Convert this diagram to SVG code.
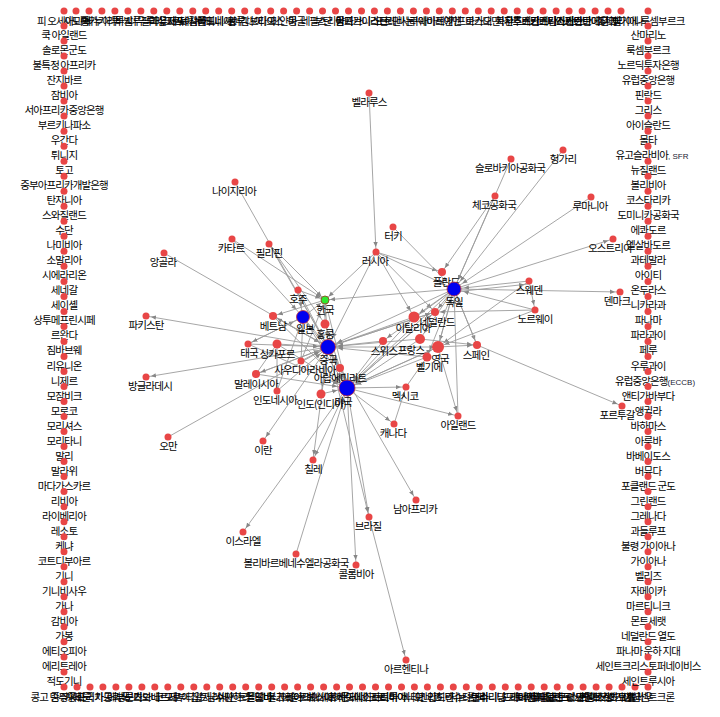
<svg xmlns="http://www.w3.org/2000/svg" width="720" height="717" viewBox="0 0 720 717">
<style>
.e line{stroke:#9c9c9c;stroke-width:0.9;fill:none}
.n{fill:#e84646}
.b{fill:#0000f0;stroke:#c83232;stroke-width:0.8}
.g{fill:#2fe82f;stroke:#8b5a2b;stroke-width:1}
text{font-family:"Noto Sans CJK KR","Noto Sans",sans-serif;font-size:10.5px;fill:#000;text-anchor:middle;letter-spacing:-0.9px}
.l{font-family:"Liberation Sans",sans-serif;font-size:8px;fill:#223;letter-spacing:0}
</style>
<defs>
<marker id="as" markerUnits="userSpaceOnUse" markerWidth="14" markerHeight="6" refX="10" refY="3" orient="auto"><path d="M0,0.8 L5,3 L0,5.2 Z" fill="#878787"/></marker>
<marker id="am" markerUnits="userSpaceOnUse" markerWidth="16" markerHeight="6" refX="12" refY="3" orient="auto"><path d="M0,0.8 L5,3 L0,5.2 Z" fill="#878787"/></marker>
<marker id="ab" markerUnits="userSpaceOnUse" markerWidth="18" markerHeight="6" refX="15" refY="3" orient="auto"><path d="M0,0.8 L5,3 L0,5.2 Z" fill="#878787"/></marker>
</defs>
<rect width="720" height="717" fill="#fff"/>
<g id="edges" class="e">
<line x1="369" y1="93" x2="376" y2="252" marker-end="url(#as)"/>
<line x1="235" y1="182" x2="328" y2="347" marker-end="url(#ab)"/>
<line x1="269" y1="244" x2="325" y2="300" marker-end="url(#as)"/>
<line x1="269" y1="244" x2="328" y2="347" marker-end="url(#ab)"/>
<line x1="269" y1="244" x2="325" y2="324" marker-end="url(#am)"/>
<line x1="232" y1="239" x2="325" y2="300" marker-end="url(#as)"/>
<line x1="232" y1="239" x2="303" y2="317" marker-end="url(#ab)"/>
<line x1="164" y1="253" x2="328" y2="347" marker-end="url(#ab)"/>
<line x1="328" y1="347" x2="146" y2="316" marker-end="url(#as)"/>
<line x1="328" y1="347" x2="146" y2="377" marker-end="url(#as)"/>
<line x1="168" y1="437" x2="328" y2="347" marker-end="url(#ab)"/>
<line x1="328" y1="347" x2="263" y2="441" marker-end="url(#as)"/>
<line x1="347" y1="388" x2="313" y2="460" marker-end="url(#as)"/>
<line x1="328" y1="347" x2="313" y2="460" marker-end="url(#as)"/>
<line x1="347" y1="388" x2="243" y2="532" marker-end="url(#as)"/>
<line x1="296" y1="554" x2="347" y2="388" marker-end="url(#ab)"/>
<line x1="347" y1="388" x2="356" y2="565" marker-end="url(#as)"/>
<line x1="347" y1="388" x2="369" y2="517" marker-end="url(#as)"/>
<line x1="328" y1="347" x2="369" y2="517" marker-end="url(#as)"/>
<line x1="369" y1="517" x2="406" y2="660" marker-end="url(#as)"/>
<line x1="328" y1="347" x2="416" y2="500" marker-end="url(#as)"/>
<line x1="347" y1="388" x2="394" y2="424" marker-end="url(#as)"/>
<line x1="394" y1="424" x2="406" y2="387" marker-end="url(#as)"/>
<line x1="347" y1="388" x2="406" y2="387" marker-end="url(#as)"/>
<line x1="347" y1="388" x2="458" y2="416" marker-end="url(#as)"/>
<line x1="438" y1="347" x2="458" y2="416" marker-end="url(#as)"/>
<line x1="458" y1="416" x2="454" y2="289" marker-end="url(#ab)"/>
<line x1="376" y1="252" x2="325" y2="300" marker-end="url(#as)"/>
<line x1="376" y1="252" x2="328" y2="347" marker-end="url(#ab)"/>
<line x1="376" y1="252" x2="454" y2="289" marker-end="url(#ab)"/>
<line x1="376" y1="252" x2="435" y2="312" marker-end="url(#as)"/>
<line x1="376" y1="252" x2="414" y2="317" marker-end="url(#am)"/>
<line x1="376" y1="252" x2="442" y2="272" marker-end="url(#as)"/>
<line x1="393" y1="227" x2="454" y2="289" marker-end="url(#ab)"/>
<line x1="563" y1="150" x2="454" y2="289" marker-end="url(#ab)"/>
<line x1="511" y1="159" x2="454" y2="289" marker-end="url(#ab)"/>
<line x1="495" y1="196" x2="454" y2="289" marker-end="url(#ab)"/>
<line x1="495" y1="196" x2="442" y2="272" marker-end="url(#as)"/>
<line x1="591" y1="197" x2="454" y2="289" marker-end="url(#ab)"/>
<line x1="454" y1="289" x2="613" y2="239" marker-end="url(#as)"/>
<line x1="454" y1="289" x2="620" y2="292" marker-end="url(#as)"/>
<line x1="529" y1="281" x2="454" y2="289" marker-end="url(#ab)"/>
<line x1="454" y1="292" x2="529" y2="284" marker-end="url(#as)"/>
<line x1="529" y1="281" x2="535" y2="310" marker-end="url(#as)"/>
<line x1="535" y1="310" x2="438" y2="347" marker-end="url(#am)"/>
<line x1="535" y1="310" x2="454" y2="289" marker-end="url(#ab)"/>
<line x1="535" y1="310" x2="435" y2="312" marker-end="url(#as)"/>
<line x1="529" y1="281" x2="438" y2="347" marker-end="url(#am)"/>
<line x1="477" y1="345" x2="622" y2="406" marker-end="url(#as)"/>
<line x1="454" y1="289" x2="477" y2="345" marker-end="url(#as)"/>
<line x1="420" y1="339" x2="477" y2="345" marker-end="url(#as)"/>
<line x1="438" y1="347" x2="477" y2="345" marker-end="url(#as)"/>
<line x1="477" y1="345" x2="454" y2="289" marker-end="url(#ab)"/>
<line x1="454" y1="289" x2="328" y2="347" marker-end="url(#ab)"/>
<line x1="454" y1="289" x2="347" y2="388" marker-end="url(#ab)"/>
<line x1="454" y1="289" x2="325" y2="300" marker-end="url(#as)"/>
<line x1="438" y1="347" x2="347" y2="388" marker-end="url(#ab)"/>
<line x1="420" y1="339" x2="347" y2="388" marker-end="url(#ab)"/>
<line x1="414" y1="317" x2="347" y2="388" marker-end="url(#ab)"/>
<line x1="435" y1="312" x2="328" y2="347" marker-end="url(#ab)"/>
<line x1="420" y1="339" x2="328" y2="347" marker-end="url(#ab)"/>
<line x1="414" y1="317" x2="328" y2="347" marker-end="url(#ab)"/>
<line x1="438" y1="347" x2="328" y2="347" marker-end="url(#ab)"/>
<line x1="383" y1="341" x2="328" y2="347" marker-end="url(#ab)"/>
<line x1="383" y1="341" x2="347" y2="388" marker-end="url(#ab)"/>
<line x1="427" y1="357" x2="328" y2="347" marker-end="url(#ab)"/>
<line x1="454" y1="289" x2="420" y2="339" marker-end="url(#am)"/>
<line x1="454" y1="289" x2="435" y2="312" marker-end="url(#as)"/>
<line x1="454" y1="289" x2="414" y2="317" marker-end="url(#am)"/>
<line x1="454" y1="289" x2="438" y2="347" marker-end="url(#am)"/>
<line x1="454" y1="289" x2="427" y2="357" marker-end="url(#am)"/>
<line x1="454" y1="289" x2="383" y2="341" marker-end="url(#as)"/>
<line x1="438" y1="347" x2="454" y2="289" marker-end="url(#ab)"/>
<line x1="435" y1="312" x2="347" y2="388" marker-end="url(#ab)"/>
<line x1="427" y1="357" x2="347" y2="388" marker-end="url(#ab)"/>
<line x1="347" y1="388" x2="438" y2="347" marker-end="url(#am)"/>
<line x1="347" y1="388" x2="435" y2="312" marker-end="url(#as)"/>
<line x1="328" y1="347" x2="435" y2="312" marker-end="url(#as)"/>
<line x1="406" y1="387" x2="427" y2="357" marker-end="url(#am)"/>
<line x1="303" y1="317" x2="328" y2="347" marker-end="url(#ab)"/>
<line x1="325" y1="300" x2="328" y2="347" marker-end="url(#ab)"/>
<line x1="347" y1="388" x2="328" y2="347" marker-end="url(#ab)"/>
<line x1="303" y1="317" x2="347" y2="388" marker-end="url(#ab)"/>
<line x1="325" y1="300" x2="347" y2="388" marker-end="url(#ab)"/>
<line x1="325" y1="324" x2="347" y2="388" marker-end="url(#ab)"/>
<line x1="325" y1="300" x2="325" y2="324" marker-end="url(#am)"/>
<line x1="273" y1="316" x2="328" y2="347" marker-end="url(#ab)"/>
<line x1="273" y1="316" x2="347" y2="388" marker-end="url(#ab)"/>
<line x1="248" y1="344" x2="328" y2="347" marker-end="url(#ab)"/>
<line x1="277" y1="344" x2="328" y2="347" marker-end="url(#ab)"/>
<line x1="256" y1="374" x2="277" y2="344" marker-end="url(#am)"/>
<line x1="256" y1="374" x2="328" y2="347" marker-end="url(#ab)"/>
<line x1="277" y1="391" x2="328" y2="347" marker-end="url(#ab)"/>
<line x1="277" y1="391" x2="303" y2="317" marker-end="url(#ab)"/>
<line x1="277" y1="391" x2="277" y2="344" marker-end="url(#am)"/>
<line x1="301" y1="361" x2="328" y2="347" marker-end="url(#ab)"/>
<line x1="301" y1="361" x2="303" y2="317" marker-end="url(#ab)"/>
<line x1="301" y1="361" x2="325" y2="300" marker-end="url(#as)"/>
<line x1="340" y1="368" x2="303" y2="317" marker-end="url(#ab)"/>
<line x1="328" y1="347" x2="340" y2="368" marker-end="url(#as)"/>
<line x1="321" y1="394" x2="347" y2="388" marker-end="url(#ab)"/>
<line x1="328" y1="347" x2="321" y2="394" marker-end="url(#am)"/>
<line x1="298" y1="290" x2="328" y2="347" marker-end="url(#ab)"/>
<line x1="298" y1="290" x2="303" y2="317" marker-end="url(#ab)"/>
<line x1="298" y1="290" x2="325" y2="300" marker-end="url(#as)"/>
<line x1="303" y1="317" x2="325" y2="300" marker-end="url(#as)"/>
<line x1="248" y1="344" x2="303" y2="317" marker-end="url(#ab)"/>
<line x1="256" y1="374" x2="347" y2="388" marker-end="url(#ab)"/>
<line x1="277" y1="344" x2="347" y2="388" marker-end="url(#ab)"/>
<line x1="248" y1="344" x2="347" y2="388" marker-end="url(#ab)"/>
<line x1="328" y1="347" x2="273" y2="316" marker-end="url(#as)"/>
<line x1="325" y1="300" x2="273" y2="316" marker-end="url(#as)"/>
<line x1="328" y1="347" x2="256" y2="374" marker-end="url(#as)"/>
<line x1="303" y1="317" x2="248" y2="344" marker-end="url(#as)"/>
</g>
<g id="n-belarus"><circle class="n" cx="369" cy="93" r="3.5"/><text x="369" y="106">벨라루스</text></g>
<g id="n-hungary"><circle class="n" cx="563" cy="150" r="3.5"/><text x="563" y="163">헝가리</text></g>
<g id="n-slovakia"><circle class="n" cx="511" cy="159" r="3.5"/><text x="510" y="172">슬로바키아공화국</text></g>
<g id="n-czech"><circle class="n" cx="495" cy="196" r="3.5"/><text x="494" y="209">체코공화국</text></g>
<g id="n-romania"><circle class="n" cx="591" cy="197" r="3.5"/><text x="590" y="210">루마니아</text></g>
<g id="n-turkey"><circle class="n" cx="393" cy="227" r="3.5"/><text x="393" y="240">터키</text></g>
<g id="n-russia"><circle class="n" cx="376" cy="252" r="3.5"/><text x="375" y="265">러시아</text></g>
<g id="n-nigeria"><circle class="n" cx="235" cy="182" r="3.5"/><text x="234" y="195">나이지리아</text></g>
<g id="n-qatar"><circle class="n" cx="232" cy="239" r="3.5"/><text x="231" y="252">카타르</text></g>
<g id="n-philippines"><circle class="n" cx="269" cy="244" r="3.5"/><text x="269" y="257">필리핀</text></g>
<g id="n-angola"><circle class="n" cx="164" cy="253" r="3.5"/><text x="163" y="266">앙골라</text></g>
<g id="n-pakistan"><circle class="n" cx="146" cy="316" r="3.5"/><text x="146" y="329">파키스탄</text></g>
<g id="n-bangladesh"><circle class="n" cx="146" cy="377" r="3.5"/><text x="150" y="390">방글라데시</text></g>
<g id="n-oman"><circle class="n" cx="168" cy="437" r="3.5"/><text x="168" y="450">오만</text></g>
<g id="n-iran"><circle class="n" cx="263" cy="441" r="3.5"/><text x="263" y="454">이란</text></g>
<g id="n-chile"><circle class="n" cx="313" cy="460" r="3.5"/><text x="313" y="473">칠레</text></g>
<g id="n-israel"><circle class="n" cx="243" cy="532" r="3.5"/><text x="243" y="545">이스라엘</text></g>
<g id="n-venezuela"><circle class="n" cx="296" cy="554" r="3.5"/><text x="296" y="567">볼리바르베네수엘라공화국</text></g>
<g id="n-colombia"><circle class="n" cx="356" cy="565" r="3.5"/><text x="356" y="578">콜롬비아</text></g>
<g id="n-brazil"><circle class="n" cx="369" cy="517" r="3.5"/><text x="368" y="530">브라질</text></g>
<g id="n-safrica"><circle class="n" cx="416" cy="500" r="3.5"/><text x="415" y="513">남아프리카</text></g>
<g id="n-argentina"><circle class="n" cx="406" cy="660" r="3.5"/><text x="406" y="673">아르헨티나</text></g>
<g id="n-canada"><circle class="n" cx="394" cy="424" r="3.5"/><text x="393" y="437">캐나다</text></g>
<g id="n-ireland"><circle class="n" cx="458" cy="416" r="3.5"/><text x="458" y="429">아일랜드</text></g>
<g id="n-mexico"><circle class="n" cx="406" cy="387" r="3.5"/><text x="405" y="400">멕시코</text></g>
<g id="n-spain"><circle class="n" cx="477" cy="345" r="4"/><text x="476" y="358.5">스페인</text></g>
<g id="n-norway"><circle class="n" cx="535" cy="310" r="3.5"/><text x="535" y="323">노르웨이</text></g>
<g id="n-sweden"><circle class="n" cx="529" cy="281" r="3.5"/><text x="529" y="294">스웨덴</text></g>
<g id="n-denmark"><circle class="n" cx="620" cy="292" r="3.5"/><text x="617" y="305">덴마크</text></g>
<g id="n-austria"><circle class="n" cx="613" cy="239" r="3.5"/><text x="610" y="252">오스트리아</text></g>
<g id="n-portugal"><circle class="n" cx="622" cy="406" r="3.5"/><text x="617" y="419">포르투갈</text></g>
<g id="n-poland"><circle class="n" cx="442" cy="272" r="4"/><text x="446" y="285.5">폴란드</text></g>
<g id="n-netherlands"><circle class="n" cx="435" cy="312" r="4"/><text x="437" y="325.5">네덜란드</text></g>
<g id="n-italy"><circle class="n" cx="414" cy="317" r="5.5"/><text x="413" y="332">이탈리아</text></g>
<g id="n-switzerland"><circle class="n" cx="383" cy="341" r="4"/><text x="384" y="354.5">스위스</text></g>
<g id="n-france"><circle class="n" cx="420" cy="339" r="5"/><text x="411" y="353.5">프랑스</text></g>
<g id="n-uk"><circle class="n" cx="438" cy="347" r="6"/><text x="440" y="362.5">영국</text></g>
<g id="n-belgium"><circle class="n" cx="427" cy="357" r="4.5"/><text x="429" y="371">벨기에</text></g>
<g id="n-germany"><circle class="b" cx="454" cy="289" r="7"/><text x="454" y="305.5">독일</text></g>
<g id="n-australia"><circle class="n" cx="298" cy="290" r="3.5"/><text x="298" y="303">호주</text></g>
<g id="n-korea"><circle class="g" cx="325" cy="300" r="4"/><text x="325" y="313.5">한국</text></g>
<g id="n-vietnam"><circle class="n" cx="273" cy="316" r="4"/><text x="273" y="329.5">베트남</text></g>
<g id="n-hongkong"><circle class="n" cx="325" cy="324" r="4.5"/><text x="325" y="338">홍콩</text></g>
<g id="n-japan"><circle class="b" cx="303" cy="317" r="6.5"/><text x="305" y="333">일본</text></g>
<g id="n-thailand"><circle class="n" cx="248" cy="344" r="3.5"/><text x="249" y="357">태국</text></g>
<g id="n-singapore"><circle class="n" cx="277" cy="344" r="4.5"/><text x="277" y="358">싱가포르</text></g>
<g id="n-saudi"><circle class="n" cx="301" cy="361" r="3.5"/><text x="305" y="374">사우디아라비아</text></g>
<g id="n-uae"><circle class="n" cx="340" cy="368" r="4"/><text x="340" y="381.5">아랍에미리트</text></g>
<g id="n-malaysia"><circle class="n" cx="256" cy="374" r="4"/><text x="256" y="387.5">말레이시아</text></g>
<g id="n-indonesia"><circle class="n" cx="277" cy="391" r="3.5"/><text x="275" y="404">인도네시아</text></g>
<g id="n-india"><circle class="n" cx="321" cy="394" r="4.5"/><text x="321" y="408">인도(인디아)</text></g>
<g id="n-china"><circle class="b" cx="328" cy="347" r="7.5"/><text x="328" y="364">중국</text></g>
<g id="n-usa"><circle class="b" cx="347" cy="388" r="8"/><text x="343" y="405.5">미국</text></g>
<g id="n-T1"><circle class="n" cx="76" cy="11" r="3.5"/><text x="76" y="24.5">사모아</text></g>
<g id="n-T2"><circle class="n" cx="89" cy="11" r="3.5"/><text x="89" y="24.5">통가</text></g>
<g id="n-T3"><circle class="n" cx="101.9" cy="11" r="3.5"/><text x="101.9" y="24.5">바누아투</text></g>
<g id="n-T4"><circle class="n" cx="114.9" cy="11" r="3.5"/><text x="114.9" y="24.5">키리바시</text></g>
<g id="n-T5"><circle class="n" cx="127.9" cy="11" r="3.5"/><text x="127.9" y="24.5">투발루</text></g>
<g id="n-T6"><circle class="n" cx="140.9" cy="11" r="3.5"/><text x="140.9" y="24.5">나우루</text></g>
<g id="n-T7"><circle class="n" cx="153.8" cy="11" r="3.5"/><text x="153.8" y="24.5">팔라우</text></g>
<g id="n-T8"><circle class="n" cx="166.8" cy="11" r="3.5"/><text x="166.8" y="24.5">마셜 제도</text></g>
<g id="n-T9"><circle class="n" cx="179.8" cy="11" r="3.5"/><text x="179.8" y="24.5">미크로네시아</text></g>
<g id="n-T10"><circle class="n" cx="192.8" cy="11" r="3.5"/><text x="192.8" y="24.5">파푸아뉴기니</text></g>
<g id="n-T11"><circle class="n" cx="205.7" cy="11" r="3.5"/><text x="205.7" y="24.5">뉴칼레도니아</text></g>
<g id="n-T12"><circle class="n" cx="218.7" cy="11" r="3.5"/><text x="218.7" y="24.5">폴리네시아</text></g>
<g id="n-T13"><circle class="n" cx="231.7" cy="11" r="3.5"/><text x="231.7" y="24.5">괌</text></g>
<g id="n-T14"><circle class="n" cx="244.7" cy="11" r="3.5"/><text x="244.7" y="24.5">브루나이</text></g>
<g id="n-T15"><circle class="n" cx="257.7" cy="11" r="3.5"/><text x="257.7" y="24.5">캄보디아</text></g>
<g id="n-T16"><circle class="n" cx="270.7" cy="11" r="3.5"/><text x="270.7" y="24.5">라오스</text></g>
<g id="n-T17"><circle class="n" cx="283.6" cy="11" r="3.5"/><text x="283.6" y="24.5">미얀마</text></g>
<g id="n-T18"><circle class="n" cx="296.6" cy="11" r="3.5"/><text x="296.6" y="24.5">몽골</text></g>
<g id="n-T19"><circle class="n" cx="309.6" cy="11" r="3.5"/><text x="309.6" y="24.5">네팔</text></g>
<g id="n-T20"><circle class="n" cx="322.5" cy="11" r="3.5"/><text x="322.5" y="24.5">부탄</text></g>
<g id="n-T21"><circle class="n" cx="335.5" cy="11" r="3.5"/><text x="335.5" y="24.5">스리랑카</text></g>
<g id="n-T22"><circle class="n" cx="348.5" cy="11" r="3.5"/><text x="348.5" y="24.5">몰디브</text></g>
<g id="n-T23"><circle class="n" cx="361.5" cy="11" r="3.5"/><text x="361.5" y="24.5">아프가니스탄</text></g>
<g id="n-T24"><circle class="n" cx="374.4" cy="11" r="3.5"/><text x="374.4" y="24.5">이라크</text></g>
<g id="n-T25"><circle class="n" cx="387.4" cy="11" r="3.5"/><text x="387.4" y="24.5">요르단</text></g>
<g id="n-T26"><circle class="n" cx="400.4" cy="11" r="3.5"/><text x="400.4" y="24.5">레바논</text></g>
<g id="n-T27"><circle class="n" cx="413.4" cy="11" r="3.5"/><text x="413.4" y="24.5">시리아</text></g>
<g id="n-T28"><circle class="n" cx="426.4" cy="11" r="3.5"/><text x="426.4" y="24.5">쿠웨이트</text></g>
<g id="n-T29"><circle class="n" cx="439.3" cy="11" r="3.5"/><text x="439.3" y="24.5">바레인</text></g>
<g id="n-T30"><circle class="n" cx="452.3" cy="11" r="3.5"/><text x="452.3" y="24.5">예멘</text></g>
<g id="n-T31"><circle class="n" cx="465.3" cy="11" r="3.5"/><text x="465.3" y="24.5">키프로스</text></g>
<g id="n-T32"><circle class="n" cx="478.3" cy="11" r="3.5"/><text x="478.3" y="24.5">마카오</text></g>
<g id="n-T33"><circle class="n" cx="491.2" cy="11" r="3.5"/><text x="491.2" y="24.5">대만</text></g>
<g id="n-T34"><circle class="n" cx="504.2" cy="11" r="3.5"/><text x="504.2" y="24.5">북한</text></g>
<g id="n-T35"><circle class="n" cx="517.2" cy="11" r="3.5"/><text x="517.2" y="24.5">카자흐스탄</text></g>
<g id="n-T36"><circle class="n" cx="530.2" cy="11" r="3.5"/><text x="530.2" y="24.5">우즈베키스탄</text></g>
<g id="n-T37"><circle class="n" cx="543.1" cy="11" r="3.5"/><text x="543.1" y="24.5">투르크메니스탄</text></g>
<g id="n-T38"><circle class="n" cx="556.1" cy="11" r="3.5"/><text x="556.1" y="24.5">키르기스스탄</text></g>
<g id="n-T39"><circle class="n" cx="569.1" cy="11" r="3.5"/><text x="569.1" y="24.5">타지키스탄</text></g>
<g id="n-T40"><circle class="n" cx="582.1" cy="11" r="3.5"/><text x="582.1" y="24.5">아제르바이잔</text></g>
<g id="n-T41"><circle class="n" cx="595.1" cy="11" r="3.5"/><text x="595.1" y="24.5">아르메니아</text></g>
<g id="n-T42"><circle class="n" cx="608" cy="11" r="3.5"/><text x="608" y="24.5">조지아</text></g>
<g id="n-T43"><circle class="n" cx="621" cy="11" r="3.5"/><text x="621" y="24.5">우크라이나</text></g>
<g id="n-B1"><circle class="n" cx="77" cy="687" r="3.5"/><text x="77" y="700.5">카메룬</text></g>
<g id="n-B2"><circle class="n" cx="90" cy="687" r="3.5"/><text x="90" y="700.5">중앙아프리카공화국</text></g>
<g id="n-B3"><circle class="n" cx="102.9" cy="687" r="3.5"/><text x="102.9" y="700.5">차드</text></g>
<g id="n-B4"><circle class="n" cx="115.9" cy="687" r="3.5"/><text x="115.9" y="700.5">베냉</text></g>
<g id="n-B5"><circle class="n" cx="128.9" cy="687" r="3.5"/><text x="128.9" y="700.5">부룬디</text></g>
<g id="n-B6"><circle class="n" cx="141.9" cy="687" r="3.5"/><text x="141.9" y="700.5">보츠와나</text></g>
<g id="n-B7"><circle class="n" cx="154.8" cy="687" r="3.5"/><text x="154.8" y="700.5">카보베르데</text></g>
<g id="n-B8"><circle class="n" cx="167.8" cy="687" r="3.5"/><text x="167.8" y="700.5">코모로</text></g>
<g id="n-B9"><circle class="n" cx="180.8" cy="687" r="3.5"/><text x="180.8" y="700.5">지부티</text></g>
<g id="n-B10"><circle class="n" cx="193.8" cy="687" r="3.5"/><text x="193.8" y="700.5">이집트</text></g>
<g id="n-B11"><circle class="n" cx="206.8" cy="687" r="3.5"/><text x="206.8" y="700.5">알제리</text></g>
<g id="n-B12"><circle class="n" cx="219.7" cy="687" r="3.5"/><text x="219.7" y="700.5">남수단</text></g>
<g id="n-B13"><circle class="n" cx="232.7" cy="687" r="3.5"/><text x="232.7" y="700.5">서사하라</text></g>
<g id="n-B14"><circle class="n" cx="245.7" cy="687" r="3.5"/><text x="245.7" y="700.5">세인트헬레나</text></g>
<g id="n-B15"><circle class="n" cx="258.7" cy="687" r="3.5"/><text x="258.7" y="700.5">몰도바</text></g>
<g id="n-B16"><circle class="n" cx="271.7" cy="687" r="3.5"/><text x="271.7" y="700.5">알바니아</text></g>
<g id="n-B17"><circle class="n" cx="284.6" cy="687" r="3.5"/><text x="284.6" y="700.5">불가리아</text></g>
<g id="n-B18"><circle class="n" cx="297.6" cy="687" r="3.5"/><text x="297.6" y="700.5">크로아티아</text></g>
<g id="n-B19"><circle class="n" cx="310.6" cy="687" r="3.5"/><text x="310.6" y="700.5">슬로베니아</text></g>
<g id="n-B20"><circle class="n" cx="323.6" cy="687" r="3.5"/><text x="323.6" y="700.5">보스니아</text></g>
<g id="n-B21"><circle class="n" cx="336.6" cy="687" r="3.5"/><text x="336.6" y="700.5">세르비아</text></g>
<g id="n-B22"><circle class="n" cx="349.5" cy="687" r="3.5"/><text x="349.5" y="700.5">마케도니아</text></g>
<g id="n-B23"><circle class="n" cx="362.5" cy="687" r="3.5"/><text x="362.5" y="700.5">몬테네그로</text></g>
<g id="n-B24"><circle class="n" cx="375.5" cy="687" r="3.5"/><text x="375.5" y="700.5">에스토니아</text></g>
<g id="n-B25"><circle class="n" cx="388.5" cy="687" r="3.5"/><text x="388.5" y="700.5">라트비아</text></g>
<g id="n-B26"><circle class="n" cx="401.5" cy="687" r="3.5"/><text x="401.5" y="700.5">리투아니아</text></g>
<g id="n-B27"><circle class="n" cx="414.4" cy="687" r="3.5"/><text x="414.4" y="700.5">바티칸</text></g>
<g id="n-B28"><circle class="n" cx="427.4" cy="687" r="3.5"/><text x="427.4" y="700.5">모나코</text></g>
<g id="n-B29"><circle class="n" cx="440.4" cy="687" r="3.5"/><text x="440.4" y="700.5">안도라</text></g>
<g id="n-B30"><circle class="n" cx="453.3" cy="687" r="3.5"/><text x="453.3" y="700.5">리히텐슈타인</text></g>
<g id="n-B31"><circle class="n" cx="466.3" cy="687" r="3.5"/><text x="466.3" y="700.5">지브롤터</text></g>
<g id="n-B32"><circle class="n" cx="479.3" cy="687" r="3.5"/><text x="479.3" y="700.5">쿠바</text></g>
<g id="n-B33"><circle class="n" cx="492.3" cy="687" r="3.5"/><text x="492.3" y="700.5">수리남</text></g>
<g id="n-B34"><circle class="n" cx="505.3" cy="687" r="3.5"/><text x="505.3" y="700.5">트리니다드토바고</text></g>
<g id="n-B35"><circle class="n" cx="518.2" cy="687" r="3.5"/><text x="518.2" y="700.5">도미니카</text></g>
<g id="n-B36"><circle class="n" cx="531.2" cy="687" r="3.5"/><text x="531.2" y="700.5">케이맨 제도</text></g>
<g id="n-B37"><circle class="n" cx="544.2" cy="687" r="3.5"/><text x="544.2" y="700.5">버진 아일랜드</text></g>
<g id="n-B38"><circle class="n" cx="557.2" cy="687" r="3.5"/><text x="557.2" y="700.5">푸에르토리코</text></g>
<g id="n-B39"><circle class="n" cx="570.2" cy="687" r="3.5"/><text x="570.2" y="700.5">네덜란드령 안틸레스</text></g>
<g id="n-B40"><circle class="n" cx="583.1" cy="687" r="3.5"/><text x="583.1" y="700.5">터크스 케이커스</text></g>
<g id="n-B41"><circle class="n" cx="596.1" cy="687" r="3.5"/><text x="596.1" y="700.5">세인트키츠</text></g>
<g id="n-B42"><circle class="n" cx="609.1" cy="687" r="3.5"/><text x="609.1" y="700.5">프랑스령 기아나</text></g>
<g id="n-B43"><circle class="n" cx="622" cy="687" r="3.5"/><text x="622" y="700.5">마요트</text></g>
<g id="n-B44"><circle class="n" cx="635" cy="687" r="3.5"/><text x="635" y="700.5">토켈라우</text></g>
<g id="n-L0"><circle class="n" cx="64" cy="11" r="3.5"/><text x="64" y="24.5">피 오세아니아</text></g>
<g id="n-L1"><circle class="n" cx="64" cy="26" r="3.5"/><text x="64" y="39">쿡 아일랜드</text></g>
<g id="n-L2"><circle class="n" cx="64" cy="41" r="3.5"/><text x="64" y="54">솔로몬군도</text></g>
<g id="n-L3"><circle class="n" cx="64" cy="56.1" r="3.5"/><text x="64" y="69.1">불특정 아프리카</text></g>
<g id="n-L4"><circle class="n" cx="64" cy="71.1" r="3.5"/><text x="64" y="84.1">잔지바르</text></g>
<g id="n-L5"><circle class="n" cx="64" cy="86.1" r="3.5"/><text x="64" y="99.1">잠비아</text></g>
<g id="n-L6"><circle class="n" cx="64" cy="101.1" r="3.5"/><text x="64" y="114.1">서아프리카중앙은행</text></g>
<g id="n-L7"><circle class="n" cx="64" cy="116.1" r="3.5"/><text x="64" y="129.1">부르키나파소</text></g>
<g id="n-L8"><circle class="n" cx="64" cy="131.2" r="3.5"/><text x="64" y="144.2">우간다</text></g>
<g id="n-L9"><circle class="n" cx="64" cy="146.2" r="3.5"/><text x="64" y="159.2">튀니지</text></g>
<g id="n-L10"><circle class="n" cx="64" cy="161.2" r="3.5"/><text x="64" y="174.2">토고</text></g>
<g id="n-L11"><circle class="n" cx="64" cy="176.2" r="3.5"/><text x="64" y="189.2">중부아프리카개발은행</text></g>
<g id="n-L12"><circle class="n" cx="64" cy="191.2" r="3.5"/><text x="64" y="204.2">탄자니아</text></g>
<g id="n-L13"><circle class="n" cx="64" cy="206.3" r="3.5"/><text x="64" y="219.3">스와질랜드</text></g>
<g id="n-L14"><circle class="n" cx="64" cy="221.3" r="3.5"/><text x="64" y="234.3">수단</text></g>
<g id="n-L15"><circle class="n" cx="64" cy="236.3" r="3.5"/><text x="64" y="249.3">나미비아</text></g>
<g id="n-L16"><circle class="n" cx="64" cy="251.3" r="3.5"/><text x="64" y="264.3">소말리아</text></g>
<g id="n-L17"><circle class="n" cx="64" cy="266.3" r="3.5"/><text x="64" y="279.3">시에라리온</text></g>
<g id="n-L18"><circle class="n" cx="64" cy="281.4" r="3.5"/><text x="64" y="294.4">세네갈</text></g>
<g id="n-L19"><circle class="n" cx="64" cy="296.4" r="3.5"/><text x="64" y="309.4">세이셸</text></g>
<g id="n-L20"><circle class="n" cx="64" cy="311.4" r="3.5"/><text x="64" y="324.4">상투메프린시페</text></g>
<g id="n-L21"><circle class="n" cx="64" cy="326.4" r="3.5"/><text x="64" y="339.4">르완다</text></g>
<g id="n-L22"><circle class="n" cx="64" cy="341.4" r="3.5"/><text x="64" y="354.4">짐바브웨</text></g>
<g id="n-L23"><circle class="n" cx="64" cy="356.5" r="3.5"/><text x="64" y="369.5">리유니온</text></g>
<g id="n-L24"><circle class="n" cx="64" cy="371.5" r="3.5"/><text x="64" y="384.5">니제르</text></g>
<g id="n-L25"><circle class="n" cx="64" cy="386.5" r="3.5"/><text x="64" y="399.5">모잠비크</text></g>
<g id="n-L26"><circle class="n" cx="64" cy="401.5" r="3.5"/><text x="64" y="414.5">모로코</text></g>
<g id="n-L27"><circle class="n" cx="64" cy="416.5" r="3.5"/><text x="64" y="429.5">모리셔스</text></g>
<g id="n-L28"><circle class="n" cx="64" cy="431.6" r="3.5"/><text x="64" y="444.6">모리타니</text></g>
<g id="n-L29"><circle class="n" cx="64" cy="446.6" r="3.5"/><text x="64" y="459.6">말리</text></g>
<g id="n-L30"><circle class="n" cx="64" cy="461.6" r="3.5"/><text x="64" y="474.6">말라위</text></g>
<g id="n-L31"><circle class="n" cx="64" cy="476.6" r="3.5"/><text x="64" y="489.6">마다가스카르</text></g>
<g id="n-L32"><circle class="n" cx="64" cy="491.6" r="3.5"/><text x="64" y="504.6">리비아</text></g>
<g id="n-L33"><circle class="n" cx="64" cy="506.7" r="3.5"/><text x="64" y="519.7">라이베리아</text></g>
<g id="n-L34"><circle class="n" cx="64" cy="521.7" r="3.5"/><text x="64" y="534.7">레소토</text></g>
<g id="n-L35"><circle class="n" cx="64" cy="536.7" r="3.5"/><text x="64" y="549.7">케냐</text></g>
<g id="n-L36"><circle class="n" cx="64" cy="551.7" r="3.5"/><text x="64" y="564.7">코트디부아르</text></g>
<g id="n-L37"><circle class="n" cx="64" cy="566.7" r="3.5"/><text x="64" y="579.7">기니</text></g>
<g id="n-L38"><circle class="n" cx="64" cy="581.8" r="3.5"/><text x="64" y="594.8">기니비사우</text></g>
<g id="n-L39"><circle class="n" cx="64" cy="596.8" r="3.5"/><text x="64" y="609.8">가나</text></g>
<g id="n-L40"><circle class="n" cx="64" cy="611.8" r="3.5"/><text x="64" y="624.8">감비아</text></g>
<g id="n-L41"><circle class="n" cx="64" cy="626.8" r="3.5"/><text x="64" y="639.8">가봉</text></g>
<g id="n-L42"><circle class="n" cx="64" cy="641.8" r="3.5"/><text x="64" y="654.8">에티오피아</text></g>
<g id="n-L43"><circle class="n" cx="64" cy="656.9" r="3.5"/><text x="64" y="669.9">에리트레아</text></g>
<g id="n-L44"><circle class="n" cx="64" cy="671.9" r="3.5"/><text x="64" y="684.9">적도기니</text></g>
<g id="n-L45"><circle class="n" cx="64" cy="686.9" r="3.5"/><text x="62" y="700.5">콩고 민주공화국</text></g>
<g id="n-R0"><circle class="n" cx="648" cy="11" r="3.5"/><text x="648" y="24.5">벨기에-룩셈부르크</text></g>
<g id="n-R1"><circle class="n" cx="648" cy="26" r="3.5"/><text x="648" y="39">산마리노</text></g>
<g id="n-R2"><circle class="n" cx="648" cy="41" r="3.5"/><text x="648" y="54">룩셈부르크</text></g>
<g id="n-R3"><circle class="n" cx="648" cy="56.1" r="3.5"/><text x="648" y="69.1">노르딕투자은행</text></g>
<g id="n-R4"><circle class="n" cx="648" cy="71.1" r="3.5"/><text x="648" y="84.1">유럽중앙은행</text></g>
<g id="n-R5"><circle class="n" cx="648" cy="86.1" r="3.5"/><text x="648" y="99.1">핀란드</text></g>
<g id="n-R6"><circle class="n" cx="648" cy="101.1" r="3.5"/><text x="648" y="114.1">그리스</text></g>
<g id="n-R7"><circle class="n" cx="648" cy="116.1" r="3.5"/><text x="648" y="129.1">아이슬란드</text></g>
<g id="n-R8"><circle class="n" cx="648" cy="131.2" r="3.5"/><text x="648" y="144.2">몰타</text></g>
<g id="n-R9"><circle class="n" cx="648" cy="146.2" r="3.5"/><text x="652" y="159.2">유고슬라비아<tspan class="l">, SFR</tspan></text></g>
<g id="n-R10"><circle class="n" cx="648" cy="161.2" r="3.5"/><text x="648" y="174.2">뉴질랜드</text></g>
<g id="n-R11"><circle class="n" cx="648" cy="176.2" r="3.5"/><text x="648" y="189.2">볼리비아</text></g>
<g id="n-R12"><circle class="n" cx="648" cy="191.2" r="3.5"/><text x="648" y="204.2">코스타리카</text></g>
<g id="n-R13"><circle class="n" cx="648" cy="206.3" r="3.5"/><text x="648" y="219.3">도미니카공화국</text></g>
<g id="n-R14"><circle class="n" cx="648" cy="221.3" r="3.5"/><text x="648" y="234.3">에콰도르</text></g>
<g id="n-R15"><circle class="n" cx="648" cy="236.3" r="3.5"/><text x="648" y="249.3">엘살바도르</text></g>
<g id="n-R16"><circle class="n" cx="648" cy="251.3" r="3.5"/><text x="648" y="264.3">과테말라</text></g>
<g id="n-R17"><circle class="n" cx="648" cy="266.3" r="3.5"/><text x="648" y="279.3">아이티</text></g>
<g id="n-R18"><circle class="n" cx="648" cy="281.4" r="3.5"/><text x="648" y="294.4">온두라스</text></g>
<g id="n-R19"><circle class="n" cx="648" cy="296.4" r="3.5"/><text x="648" y="309.4">니카라과</text></g>
<g id="n-R20"><circle class="n" cx="648" cy="311.4" r="3.5"/><text x="648" y="324.4">파나마</text></g>
<g id="n-R21"><circle class="n" cx="648" cy="326.4" r="3.5"/><text x="648" y="339.4">파라과이</text></g>
<g id="n-R22"><circle class="n" cx="648" cy="341.4" r="3.5"/><text x="648" y="354.4">페루</text></g>
<g id="n-R23"><circle class="n" cx="648" cy="356.5" r="3.5"/><text x="648" y="369.5">우루과이</text></g>
<g id="n-R24"><circle class="n" cx="648" cy="371.5" r="3.5"/><text x="655" y="384.5">유럽중앙은행<tspan class="l">(ECCB)</tspan></text></g>
<g id="n-R25"><circle class="n" cx="648" cy="386.5" r="3.5"/><text x="648" y="399.5">앤티가바부다</text></g>
<g id="n-R26"><circle class="n" cx="648" cy="401.5" r="3.5"/><text x="648" y="414.5">앵귈라</text></g>
<g id="n-R27"><circle class="n" cx="648" cy="416.5" r="3.5"/><text x="648" y="429.5">바하마스</text></g>
<g id="n-R28"><circle class="n" cx="648" cy="431.6" r="3.5"/><text x="648" y="444.6">아루바</text></g>
<g id="n-R29"><circle class="n" cx="648" cy="446.6" r="3.5"/><text x="648" y="459.6">바베이도스</text></g>
<g id="n-R30"><circle class="n" cx="648" cy="461.6" r="3.5"/><text x="648" y="474.6">버뮤다</text></g>
<g id="n-R31"><circle class="n" cx="648" cy="476.6" r="3.5"/><text x="648" y="489.6">포클랜드 군도</text></g>
<g id="n-R32"><circle class="n" cx="648" cy="491.6" r="3.5"/><text x="648" y="504.6">그린랜드</text></g>
<g id="n-R33"><circle class="n" cx="648" cy="506.7" r="3.5"/><text x="648" y="519.7">그레나다</text></g>
<g id="n-R34"><circle class="n" cx="648" cy="521.7" r="3.5"/><text x="648" y="534.7">과들루프</text></g>
<g id="n-R35"><circle class="n" cx="648" cy="536.7" r="3.5"/><text x="648" y="549.7">불령 가이아나</text></g>
<g id="n-R36"><circle class="n" cx="648" cy="551.7" r="3.5"/><text x="648" y="564.7">가이아나</text></g>
<g id="n-R37"><circle class="n" cx="648" cy="566.7" r="3.5"/><text x="648" y="579.7">벨리즈</text></g>
<g id="n-R38"><circle class="n" cx="648" cy="581.8" r="3.5"/><text x="648" y="594.8">자메이카</text></g>
<g id="n-R39"><circle class="n" cx="648" cy="596.8" r="3.5"/><text x="648" y="609.8">마르티니크</text></g>
<g id="n-R40"><circle class="n" cx="648" cy="611.8" r="3.5"/><text x="648" y="624.8">몬트세랫</text></g>
<g id="n-R41"><circle class="n" cx="648" cy="626.8" r="3.5"/><text x="648" y="639.8">네덜란드 열도</text></g>
<g id="n-R42"><circle class="n" cx="648" cy="641.8" r="3.5"/><text x="648" y="654.8">파나마 운하 지대</text></g>
<g id="n-R43"><circle class="n" cx="648" cy="656.9" r="3.5"/><text x="648" y="669.9">세인트크리스토퍼네이비스</text></g>
<g id="n-R44"><circle class="n" cx="648" cy="671.9" r="3.5"/><text x="648" y="684.9">세인트루시아</text></g>
<g id="n-R45"><circle class="n" cx="648" cy="686.9" r="3.5"/><text x="648" y="700.5">생빈센트크론</text></g>
</svg>
